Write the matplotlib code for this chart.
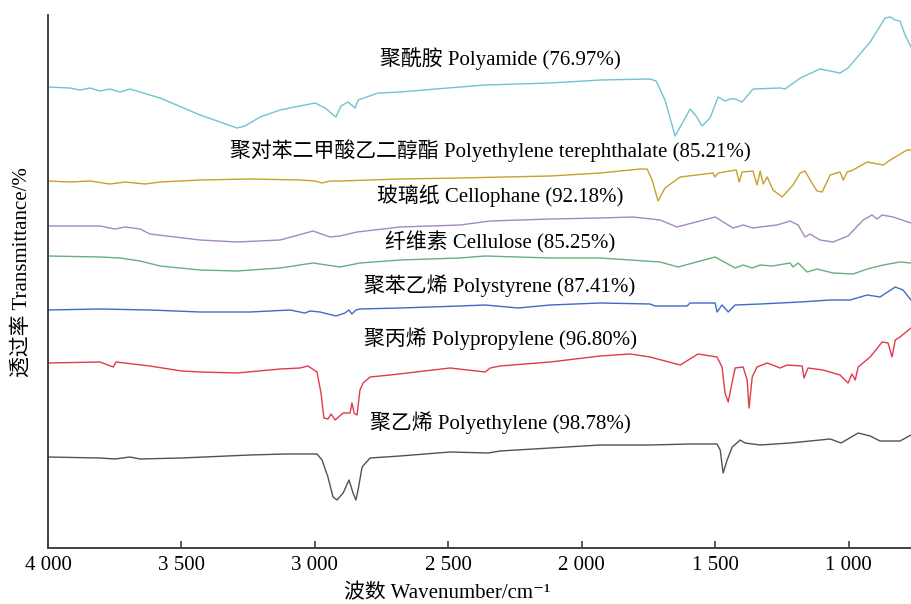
import matplotlib
matplotlib.use("Agg")
import matplotlib.pyplot as plt

plt.rcParams['font.family'] = ['Liberation Serif', 'Noto Sans CJK SC', 'DejaVu Serif']

# spectra, wavenumber (cm-1) and offset transmittance (arb. units)
pa_wn = [4000, 3918, 3880, 3843, 3805, 3768, 3730, 3693, 3655, 3618,
         3580, 3430, 3355, 3292, 3262, 3205, 3130, 3056, 2999, 2962,
         2921, 2902, 2876, 2849, 2838, 2763, 2681, 2456, 2362, 2118,
         1931, 1744, 1721, 1688, 1650, 1612, 1594, 1571, 1549, 1519,
         1489, 1463, 1444, 1425, 1399, 1358, 1256, 1238, 1181, 1107,
         1069, 1032, 1002, 919, 863, 844, 825, 807, 788, 766]
pa_t = [461, 460, 458, 460, 457, 459, 456, 459, 456, 453,
        450, 433, 426, 420, 422, 431, 438, 442, 445, 440,
        431, 442, 446, 440, 448, 455, 456, 461, 463, 465,
        468, 469, 467, 448, 412, 430, 439, 432, 422, 430,
        451, 447, 449, 449, 446, 459, 460, 459, 470, 479,
        477, 475, 480, 506, 530, 531, 528, 527, 513, 501]

pet_wn = [4000, 3918, 3843, 3768, 3711, 3636, 3580, 3430, 3243, 3056,
          2999, 2973, 2943, 2906, 2681, 2456, 2118, 1931, 1781, 1755,
          1736, 1714, 1688, 1631, 1508, 1500, 1489, 1421, 1410, 1399,
          1358, 1343, 1331, 1320, 1305, 1283, 1249, 1208, 1181, 1163,
          1144, 1118, 1099, 1069, 1032, 1020, 1005, 983, 930, 870,
          844, 781, 766]
pet_t = [367, 366, 367, 364, 366, 364, 366, 368, 369, 368,
         367, 365, 367, 367, 369, 370, 372, 375, 379, 379,
         368, 347, 360, 371, 375, 371, 375, 378, 366, 376,
         377, 363, 377, 364, 371, 358, 351, 363, 375, 377,
         368, 357, 356, 373, 376, 368, 376, 378, 386, 383,
         388, 398, 398]

cph_wn = [4000, 3805, 3749, 3711, 3655, 3618, 3430, 3292, 3130, 3007,
          2943, 2906, 2842, 2681, 2456, 2343, 2118, 1931, 1807, 1706,
          1643, 1500, 1433, 1395, 1358, 1331, 1268, 1219, 1189, 1163,
          1144, 1107, 1058, 1002, 945, 912, 893, 874, 833, 766]
cph_t = [322, 322, 319, 321, 319, 314, 308, 306, 308, 317,
         311, 312, 316, 321, 323, 327, 329, 330, 331, 328,
         321, 331, 320, 323, 320, 321, 323, 327, 323, 311,
         314, 308, 306, 312, 328, 333, 329, 333, 331, 325]

cel_wn = [4000, 3805, 3730, 3655, 3580, 3430, 3292, 3130, 3007, 2906,
          2831, 2681, 2456, 2362, 2118, 1931, 1706, 1639, 1500, 1425,
          1395, 1361, 1331, 1286, 1219, 1208, 1189, 1155, 1118, 1058,
          983, 930, 870, 807, 766]
cel_t = [292, 291, 290, 287, 282, 278, 277, 280, 285, 281,
         285, 288, 290, 292, 290, 290, 286, 281, 291, 280,
         283, 280, 283, 282, 285, 281, 285, 276, 279, 275,
         274, 279, 283, 286, 285]

ps_wn = [4000, 3805, 3618, 3430, 3243, 3093, 3056, 3037, 3018, 2981,
         2921, 2887, 2872, 2861, 2846, 2831, 2681, 2456, 2362, 2238,
         2118, 1931, 1744, 1725, 1605, 1594, 1500, 1493, 1474, 1451,
         1425, 1331, 1181, 1069, 994, 930, 882, 825, 796, 766]
ps_t = [238, 239, 238, 236, 236, 238, 236, 235, 237, 236,
        232, 235, 238, 234, 238, 239, 240, 242, 243, 240,
        243, 245, 244, 242, 242, 245, 245, 236, 243, 236,
        243, 244, 246, 248, 248, 253, 251, 261, 258, 248]

pp_wn = [4000, 3805, 3756, 3745, 3618, 3500, 3430, 3292, 3130, 3056,
         3026, 2992, 2977, 2966, 2951, 2939, 2924, 2894, 2868, 2861,
         2853, 2842, 2831, 2819, 2793, 2718, 2493, 2362, 2343, 2306,
         2118, 1931, 1819, 1744, 1631, 1564, 1493, 1474, 1463, 1451,
         1436, 1425, 1395, 1380, 1373, 1361, 1343, 1305, 1256, 1230,
         1174, 1167, 1152, 1096, 1032, 1002, 987, 975, 964, 919,
         874, 852, 837, 825, 807, 766]
pp_t = [185, 186, 181, 186, 182, 177, 176, 175, 179, 180,
        182, 176, 155, 130, 129, 134, 128, 135, 135, 145,
        135, 133, 158, 165, 171, 173, 180, 176, 180, 182,
        186, 192, 194, 191, 183, 194, 191, 181, 155, 146,
        166, 180, 181, 168, 140, 171, 181, 185, 180, 183,
        182, 170, 180, 178, 173, 165, 174, 168, 181, 191,
        206, 205, 191, 208, 211, 220]

pe_wn = [4000, 3805, 3749, 3693, 3655, 3500, 3243, 3112, 2992, 2973,
         2951, 2932, 2917, 2894, 2872, 2857, 2846, 2838, 2823, 2793,
         2681, 2493, 2351, 2306, 2118, 1931, 1744, 1594, 1493, 1481,
         1470, 1455, 1436, 1406, 1388, 1331, 1219, 1069, 1028, 964,
         919, 882, 807, 766]
pe_t = [91, 90, 89, 91, 89, 90, 93, 94, 94, 88,
        71, 51, 48, 55, 68, 55, 48, 58, 81, 90,
        92, 96, 95, 97, 100, 103, 103, 104, 104, 98,
        75, 88, 101, 108, 105, 103, 105, 109, 105, 115,
        112, 107, 107, 113]

labels = ['聚酰胺 Polyamide (76.97%)',
          '聚对苯二甲酸乙二醇酯 Polyethylene terephthalate (85.21%)',
          '玻璃纸 Cellophane (92.18%)',
          '纤维素 Cellulose (85.25%)',
          '聚苯乙烯 Polystyrene (87.41%)',
          '聚丙烯 Polypropylene (96.80%)',
          '聚乙烯 Polyethylene (98.78%)']
label_x = [2306, 2343, 2306, 2306, 2306, 2306, 2306]
label_y = [489, 397, 352, 306, 262, 209, 125]
colors = ['#72c2d0', '#c9a02c', '#a687c6', '#66b07f', '#3f6bc6', '#e03a4b', '#525252']

xticks = [4000, 3500, 3000, 2500, 2000, 1500, 1000]
xtick_labels = ['4 000', '3 500', '3 000', '2 500', '2 000', '1 500', '1 000']

spectra = [(pa_wn, pa_t), (pet_wn, pet_t), (cph_wn, cph_t), (cel_wn, cel_t),
           (ps_wn, ps_t), (pp_wn, pp_t), (pe_wn, pe_t)]

fig = plt.figure(figsize=(9.11, 6.04), dpi=100)
ax = fig.add_axes([48 / 911, 56 / 604, 863 / 911, 533 / 604])

for (wn, t), c, lab, lx, ly in zip(spectra, colors, labels, label_x, label_y):
    ax.plot(wn, t, color=c, lw=1.0)
    ax.text(lx, ly, lab, ha='center', va='center', fontsize=15, color='black')

ax.set_xlim(4000, 766)
ax.set_ylim(0, 533)
ax.set_xticks(xticks)
ax.set_xticklabels(xtick_labels, fontsize=15)
ax.set_yticks([])
ax.tick_params(axis='x', direction='in', length=5, width=1.2, color='#404040', pad=6)

for s in ['top', 'right']:
    ax.spines[s].set_visible(False)
for s in ['left', 'bottom']:
    ax.spines[s].set_linewidth(1.4)
    ax.spines[s].set_color('#404040')

ax.set_xlabel('波数 Wavenumber/cm\u207b\u00b9', fontsize=15)
ax.xaxis.set_label_coords(0.463, -0.086)
ax.xaxis.label.set_va('center')
ax.set_ylabel('透过率 Transmittance/%', fontsize=15)
ax.yaxis.set_label_coords(-0.03, 0.518)
ax.yaxis.label.set_va('center')

fig.savefig('out.png', dpi=100)
